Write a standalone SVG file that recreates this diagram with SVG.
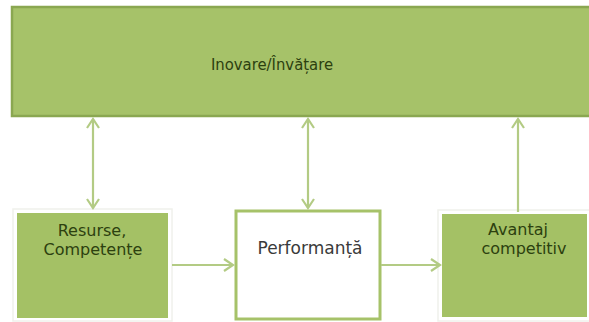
<svg xmlns="http://www.w3.org/2000/svg" width="589" height="322" viewBox="0 0 589 322">
  <style>
    .green { fill: #a4c165; }
    .halo { fill: none; stroke: #f0f1ec; stroke-width: 1.5; }
    .lbl { font-family: "DejaVu Sans", Verdana, sans-serif; font-size: 16px; fill: #2c400f; text-anchor: middle; }
    .title { font-family: "DejaVu Sans Condensed", "DejaVu Sans", sans-serif; font-size: 16.5px; }
    .lbl-dark { fill: #3a3a3a; font-size: 17px; }
    .conn { stroke: #b3cb84; stroke-width: 2.2; fill: none; }
  </style>
  <defs>
    <marker id="chev" viewBox="0 0 12 14" refX="10" refY="7" markerWidth="12" markerHeight="14" markerUnits="userSpaceOnUse" orient="auto-start-reverse">
      <path d="M1,1 L10,7 L1,13" fill="none" stroke="#b3cb84" stroke-width="2.2"/>
    </marker>
  </defs>
  <rect width="589" height="322" fill="#ffffff"/>

  <g id="inovare">
    <rect x="12" y="7" width="590" height="109" fill="#a6c269" stroke="#8aa751" stroke-width="2.5"/>
    <text class="lbl title" x="272" y="70">Inovare/Învățare</text>
  </g>

  <g id="resurse">
    <rect class="halo" x="13" y="209" width="159" height="112"/>
    <rect class="green" x="17" y="213" width="151" height="105"/>
    <text class="lbl" x="92" y="235.5">Resurse,</text>
    <text class="lbl" x="93" y="254.5">Competențe</text>
  </g>

  <g id="performanta">
    <rect x="236" y="211" width="144" height="108" fill="#ffffff" stroke="#a6c269" stroke-width="3"/>
    <text class="lbl lbl-dark" x="310" y="254">Performanță</text>
  </g>

  <g id="avantaj">
    <rect class="halo" x="438" y="210" width="152" height="111"/>
    <rect class="green" x="442" y="214" width="145" height="103"/>
    <text class="lbl" x="518" y="235">Avantaj</text>
    <text class="lbl" x="524" y="254">competitiv</text>
  </g>

  <g id="connectors">
    <line class="conn" x1="93" y1="119" x2="93" y2="208" marker-start="url(#chev)" marker-end="url(#chev)"/>
    <line class="conn" x1="308" y1="119" x2="308" y2="208" marker-start="url(#chev)" marker-end="url(#chev)"/>
    <line class="conn" x1="518" y1="212" x2="518" y2="119" marker-end="url(#chev)"/>
    <line class="conn" x1="172" y1="265" x2="233" y2="265" marker-end="url(#chev)"/>
    <line class="conn" x1="381" y1="265" x2="440" y2="265" marker-end="url(#chev)"/>
  </g>
</svg>
